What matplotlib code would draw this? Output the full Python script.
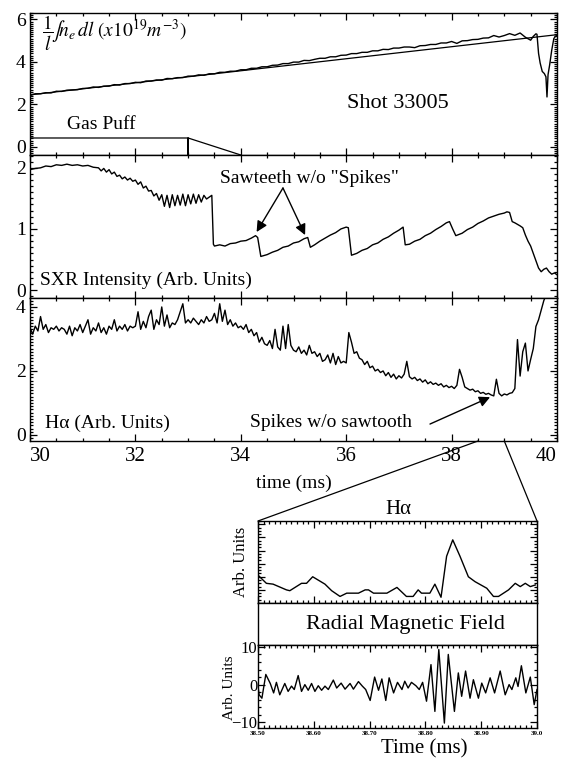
import numpy as np
import matplotlib
matplotlib.use("Agg")
import matplotlib.pyplot as plt
from matplotlib.patches import ConnectionPatch
from matplotlib.ticker import MultipleLocator

plt.rcParams['font.family'] = ['Liberation Serif', 'DejaVu Serif']
plt.rcParams['mathtext.fontset'] = 'stix'

# ---------------- line-averaged density (x10^19 m^-3) ----------------
ne_time = np.concatenate([np.round(np.arange(30.0, 39.51, 0.1), 2),
                          [39.55, 39.60, 39.62, 39.65, 39.68, 39.72, 39.76, 39.79,
                           39.81, 39.83, 39.86, 39.90, 39.94, 39.97, 40.0]])
ne_value = [2.42, 2.50, 2.50, 2.55, 2.54, 2.62, 2.61, 2.67, 2.68, 2.69,
            2.75, 2.76, 2.82, 2.80, 2.86, 2.86, 2.93, 2.91, 2.98, 2.98,
            3.04, 3.02, 3.10, 3.10, 3.15, 3.14, 3.22, 3.21, 3.26, 3.26,
            3.33, 3.33, 3.39, 3.37, 3.44, 3.44, 3.51, 3.51, 3.56, 3.56,
            3.63, 3.63, 3.70, 3.70, 3.77, 3.77, 3.84, 3.85, 3.92, 3.92,
            3.99, 3.99, 4.07, 4.06, 4.12, 4.17, 4.17, 4.24, 4.24, 4.31,
            4.32, 4.39, 4.39, 4.45, 4.45, 4.52, 4.52, 4.59, 4.58, 4.65,
            4.65, 4.70, 4.70, 4.67, 4.76, 4.77, 4.82, 4.82, 4.89, 4.89,
            4.96, 4.87, 4.99, 5.00, 5.05, 5.06, 5.12, 5.13, 5.24, 5.17,
            5.24, 5.33, 5.25, 5.36, 5.16, 5.02,
            5.20, 5.32, 5.30, 4.40, 3.95, 3.55, 3.45, 3.30,
            2.35, 3.40, 3.85, 4.55, 5.10, 5.20, 5.25]
ne_fit_time = [30.0, 40.0]
ne_fit_value = [2.45, 5.28]

# gas puff waveform (drawn on the density axis)
gas_time = [30.0, 33.0, 33.0, 33.0, 34.0]
gas_level = [0.42, 0.42, -0.38, 0.42, -0.38]

# ---------------- soft X-ray intensity ----------------
sxr_time = [30.0, 30.1, 30.2, 30.3, 30.4, 30.5, 30.6, 30.7, 30.8, 30.9,
            31.0, 31.1, 31.2, 31.3, 31.35, 31.4, 31.45, 31.5, 31.55, 31.6,
            31.65, 31.7, 31.75, 31.8, 31.85, 31.9, 31.95, 32.0, 32.05, 32.1,
            32.15, 32.2, 32.25, 32.3, 32.35, 32.4, 32.45, 32.5, 32.55, 32.6,
            32.65, 32.7, 32.75, 32.8, 32.85, 32.9, 32.95, 33.0, 33.05, 33.1,
            33.15, 33.2, 33.25, 33.3, 33.35, 33.4, 33.45, 33.48, 33.5, 33.6,
            33.7, 33.8, 33.9, 34.0, 34.1, 34.2, 34.28, 34.32, 34.38, 34.5,
            34.6, 34.7, 34.8, 34.9, 35.0, 35.1, 35.2, 35.27, 35.32, 35.4,
            35.5, 35.6, 35.7, 35.8, 35.9, 36.0, 36.04, 36.1, 36.2, 36.3,
            36.4, 36.5, 36.6, 36.7, 36.8, 36.9, 37.0, 37.08, 37.12, 37.2,
            37.3, 37.4, 37.5, 37.6, 37.7, 37.8, 37.9, 37.96, 38.02, 38.08,
            38.2, 38.3, 38.4, 38.5, 38.6, 38.7, 38.8, 38.9, 39.0, 39.05,
            39.1, 39.15, 39.2, 39.3, 39.35, 39.4, 39.45, 39.5, 39.55, 39.6,
            39.65, 39.7, 39.75, 39.8, 39.85, 39.9, 39.95, 40.0]
sxr_value = [1.97, 1.99, 2.00, 2.03, 2.02, 2.05, 2.04, 2.06, 2.04, 2.05,
             2.03, 2.04, 2.01, 2.00, 1.95, 1.99, 1.93, 1.97, 1.90, 1.93,
             1.86, 1.88, 1.82, 1.85, 1.80, 1.83, 1.78, 1.80, 1.73, 1.77,
             1.67, 1.70, 1.62, 1.63, 1.54, 1.58, 1.47, 1.56, 1.37, 1.55,
             1.35, 1.56, 1.38, 1.55, 1.39, 1.57, 1.38, 1.56, 1.41, 1.57,
             1.42, 1.56, 1.44, 1.55, 1.49, 1.52, 1.55, 0.75, 0.72, 0.74,
             0.72, 0.76, 0.77, 0.80, 0.81, 0.85, 0.89, 0.86, 0.55, 0.58,
             0.62, 0.65, 0.70, 0.72, 0.77, 0.79, 0.84, 0.86, 0.70, 0.74,
             0.80, 0.85, 0.90, 0.94, 1.00, 1.03, 1.02, 0.57, 0.60, 0.65,
             0.68, 0.74, 0.77, 0.83, 0.87, 0.93, 0.98, 1.03, 0.74, 0.75,
             0.80, 0.83, 0.89, 0.93, 0.99, 1.04, 1.10, 1.12, 1.00, 0.89,
             0.93, 0.99, 1.03, 1.09, 1.13, 1.18, 1.21, 1.24, 1.26, 1.28,
             1.27, 1.12, 1.10, 1.05, 1.02, 0.90, 0.80, 0.72, 0.60, 0.48,
             0.36, 0.30, 0.34, 0.36, 0.30, 0.26, 0.28, 0.25]

# ---------------- H-alpha emission ----------------
ha_time = np.round(np.arange(30.0, 40.001, 0.05), 2)
ha_value = [3.35, 3.15, 3.40, 3.25, 3.70, 3.30, 3.45, 3.20, 3.35, 3.30, 3.40, 3.25, 3.35, 3.30, 3.15, 3.40, 3.10, 3.35, 3.25, 3.45,
            3.20, 3.40, 3.60, 3.15, 3.35, 3.25, 3.50, 3.20, 3.35, 3.15, 3.40, 3.30, 3.60, 3.25, 3.40, 3.30, 3.45, 3.25, 3.40, 3.35,
            3.40, 3.85, 3.30, 3.55, 3.35, 3.70, 3.90, 3.30, 3.60, 3.45, 4.00, 3.40, 3.75, 3.35, 3.50, 3.45, 3.60, 3.85, 4.10, 3.50,
            3.60, 3.50, 3.65, 3.55, 3.45, 3.60, 3.50, 3.70, 3.55, 3.60, 3.80, 3.50, 4.10, 3.55, 3.90, 3.45, 3.60, 3.40, 3.50, 3.35,
            3.40, 3.30, 3.45, 3.20, 3.30, 3.10, 3.20, 2.90, 3.05, 2.85, 2.80, 2.95, 2.70, 3.30, 2.75, 2.65, 3.40, 2.70, 3.45, 2.80,
            2.65, 2.60, 2.75, 2.55, 2.65, 2.50, 2.80, 2.55, 2.60, 2.45, 2.55, 2.30, 2.35, 2.50, 2.25, 2.55, 2.20, 2.45, 2.25, 2.30,
            2.25, 3.20, 2.90, 2.55, 2.60, 2.40, 2.35, 2.20, 2.30, 2.10, 2.15, 2.00, 2.05, 1.95, 2.00, 1.85, 1.95, 1.80, 1.90, 1.75,
            1.85, 1.78, 1.90, 2.30, 1.82, 1.75, 1.80, 1.70, 1.75, 1.65, 1.72, 1.60, 1.66, 1.58, 1.62, 1.55, 1.60, 1.50, 1.55, 1.48,
            1.52, 1.45, 1.55, 2.05, 1.80, 1.50, 1.45, 1.40, 1.43, 1.35, 1.38, 1.30, 1.33, 1.27, 1.30, 1.25, 1.22, 1.74, 1.30, 1.22,
            1.28, 1.25, 1.30, 1.32, 1.45, 2.98, 1.84, 2.60, 2.87, 2.00, 2.36, 2.70, 3.39, 3.60, 3.90, 4.20, 4.40, 4.60, 4.70, 4.70, 4.70]
main_ticks = [30, 32, 34, 36, 38, 40]
main_ticklabels = ['30', '32', '34', '36', '38', '40']

# ---------------- zoomed window 38.5 - 39.0 ms ----------------
zoom_ha_time = [38.500, 38.515, 38.527, 38.551, 38.557, 38.578, 38.587, 38.598, 38.620, 38.632,
                38.647, 38.659, 38.680, 38.692, 38.698, 38.707, 38.731, 38.749, 38.766, 38.778,
                38.787, 38.793, 38.808, 38.817, 38.828, 38.838, 38.849, 38.862, 38.877, 38.889,
                38.910, 38.922, 38.931, 38.949, 38.961, 38.970, 38.979, 38.988, 38.997]
zoom_ha_value = [0.34, 0.24, 0.23, 0.16, 0.15, 0.24, 0.24, 0.32, 0.23, 0.15,
                 0.08, 0.12, 0.12, 0.16, 0.16, 0.12, 0.12, 0.19, 0.08, 0.08,
                 0.16, 0.12, 0.12, 0.23, 0.07, 0.57, 0.77, 0.57, 0.32, 0.26,
                 0.18, 0.08, 0.08, 0.16, 0.24, 0.20, 0.24, 0.20, 0.22]

mag_time = [38.500, 38.502, 38.507, 38.514, 38.522, 38.528, 38.533, 38.539, 38.548, 38.554,
            38.560, 38.565, 38.572, 38.578, 38.584, 38.590, 38.596, 38.602, 38.608, 38.614,
            38.620, 38.626, 38.635, 38.641, 38.649, 38.656, 38.665, 38.671, 38.680, 38.687,
            38.693, 38.701, 38.709, 38.716, 38.722, 38.729, 38.735, 38.743, 38.750, 38.758,
            38.763, 38.769, 38.775, 38.783, 38.789, 38.795, 38.802, 38.810, 38.817, 38.824,
            38.834, 38.841, 38.852, 38.859, 38.865, 38.872, 38.880, 38.886, 38.895, 38.901,
            38.908, 38.916, 38.924, 38.934, 38.943, 38.950, 38.955, 38.962, 38.966, 38.972,
            38.980, 38.988, 38.995, 39.000]
mag_value = [-0.5, -2.7, -3.6, 2.7, 0.3, -2.2, 0.6, -2.7, 0.3, -1.8,
             -0.4, -1.3, 2.4, -1.8, 0.0, -1.5, 0.3, -1.8, -0.3, -1.5,
             -0.4, -1.3, 1.2, -0.9, 0.4, -1.2, 0.3, -1.2, 0.8, -0.4,
             -1.3, -4.2, 2.0, -1.5, 1.5, -4.2, 1.8, -2.2, 0.6, -1.3,
             0.9, -0.9, 0.6, -0.3, -1.3, 0.6, -4.4, 5.3, -7.1, 9.3,
             -10.2, 8.0, -7.1, 3.1, -3.1, 3.6, -3.6, 1.3, -3.6, 0.4,
             -2.2, 1.8, -2.2, 3.6, -2.7, 0.0, -1.3, 1.8, -0.5, 5.0,
             -2.2, 2.0, -5.3, -1.3]
mag_ticks = [38.5, 38.6, 38.7, 38.8, 38.9, 39.0]
mag_ticklabels = ['38.50', '38.60', '38.70', '38.80', '38.90', '39.0']

W, H = 563, 758
fig = plt.figure(figsize=(W / 100, H / 100), dpi=100)


def px_axes(x0, y0, x1, y1):
    """Add axes given pixel box (left, top, right, bottom)."""
    return fig.add_axes([x0 / W, 1 - y1 / H, (x1 - x0) / W, (y1 - y0) / H])


def style(ax, lw=1.0):
    for s in ax.spines.values():
        s.set_linewidth(lw)
    ax.tick_params(which='both', direction='in', top=True, right=True,
                   labelsize=14, width=0.9, pad=3)
    ax.tick_params(which='major', length=5)
    ax.tick_params(which='minor', length=2.5)


LW = 1.0
ax1 = px_axes(30, 13, 557, 155)
ax2 = px_axes(30, 155, 557, 298)
ax3 = px_axes(30, 298, 557, 441)

for ax in (ax1, ax2, ax3):
    style(ax)
    ax.set_xlim(30, 40)
    ax.xaxis.set_major_locator(MultipleLocator(2))
    ax.xaxis.set_minor_locator(MultipleLocator(0.5))
for ax in (ax1, ax2):
    ax.tick_params(labelbottom=False)

# density panel
ax1.plot(ne_time, ne_value, color='k', lw=LW)
ax1.plot(ne_fit_time, ne_fit_value, color='k', lw=0.9)
ax1.plot(gas_time, gas_level, color='k', lw=0.9)
ax1.set_ylim(-0.38, 6.3)
ax1.yaxis.set_major_locator(MultipleLocator(2))
ax1.yaxis.set_minor_locator(MultipleLocator(0.1))
ax1.text(0.022, 0.855, r'$\dfrac{1}{l}\!\int\! n_e\, dl\ \mathit{(x10^{19}m^{-3})}$',
         transform=ax1.transAxes, fontsize=14, ha='left', va='center')
ax1.text(0.135, 0.215, 'Gas Puff', transform=ax1.transAxes, fontsize=14,
         ha='center', va='center')
ax1.text(0.698, 0.366, 'Shot 33005', transform=ax1.transAxes, fontsize=16,
         ha='center', va='center')

# SXR panel
ax2.plot(sxr_time, sxr_value, color='k', lw=LW)
ax2.set_ylim(-0.13, 2.21)
ax2.yaxis.set_major_locator(MultipleLocator(1))
ax2.yaxis.set_minor_locator(MultipleLocator(0.1))
ax2.text(0.019, 0.126, 'SXR Intensity (Arb. Units)', transform=ax2.transAxes,
         fontsize=14, ha='left', va='center')
ax2.text(0.3605, 0.839, 'Sawteeth w/o "Spikes"', transform=ax2.transAxes,
         fontsize=14, ha='left', va='center')
arrow = dict(arrowstyle='-|>', mutation_scale=16, lw=1.0, color='k',
             shrinkA=0, shrinkB=0)
ax2.annotate('', xy=(34.30, 0.95), xytext=(34.80, 1.67), arrowprops=arrow)
ax2.annotate('', xy=(35.22, 0.90), xytext=(34.80, 1.67), arrowprops=arrow)

# H-alpha panel
ax3.plot(ha_time, ha_value, color='k', lw=LW)
ax3.set_ylim(-0.19, 4.28)
ax3.yaxis.set_major_locator(MultipleLocator(2))
ax3.yaxis.set_minor_locator(MultipleLocator(0.1))
ax3.text(0.0285, 0.126, 'Hα (Arb. Units)', transform=ax3.transAxes,
         fontsize=14, ha='left', va='center')
ax3.text(0.417, 0.126, 'Spikes w/o sawtooth', transform=ax3.transAxes,
         fontsize=14, ha='left', va='center')
ax3.annotate('', xy=(38.73, 1.18), xytext=(37.59, 0.34), arrowprops=arrow)
ax3.set_xticks(main_ticks, main_ticklabels)
ax3.tick_params(axis='x', labelsize=15, pad=4)
xlabels = ax3.get_xticklabels()
xlabels[0].set_horizontalalignment('left')
xlabels[-1].set_horizontalalignment('right')
fig.text(294 / W, 1 - 483 / H, 'time (ms)', fontsize=14, ha='center', va='center')

# zoomed H-alpha
axz = px_axes(258, 521, 537, 603)
style(axz)
axz.plot(zoom_ha_time, zoom_ha_value, color='k', lw=LW)
axz.set_xlim(38.5, 39.0)
axz.set_ylim(0, 1)
axz.xaxis.set_major_locator(MultipleLocator(0.1))
axz.xaxis.set_minor_locator(MultipleLocator(0.01))
axz.yaxis.set_major_locator(MultipleLocator(0.16))
axz.yaxis.set_minor_locator(MultipleLocator(0.04))
axz.tick_params(which='both', labelbottom=False, labelleft=False)
axz.tick_params(which='minor', length=2)
fig.text(398 / W, 1 - 510 / H, 'Hα', fontsize=15, ha='center', va='center')
fig.text(241 / W, 1 - 562 / H, 'Arb. Units', fontsize=12, rotation=90,
         ha='center', va='center')

# title strip for the magnetic probe
axt = px_axes(258, 603, 537, 645)
for s in axt.spines.values():
    s.set_linewidth(1.0)
axt.set_xticks([])
axt.set_yticks([])
axt.text(0.53, 0.5, 'Radial Magnetic Field', transform=axt.transAxes,
         fontsize=16, ha='center', va='center')

# zoomed radial magnetic field
axm = px_axes(258, 645, 537, 728)
style(axm)
axm.plot(mag_time, mag_value, color='k', lw=LW)
axm.set_xlim(38.5, 39.0)
axm.set_ylim(-11.5, 10.5)
axm.set_xticks(mag_ticks)
axm.set_xticklabels(mag_ticklabels, fontsize=5, fontweight='bold')
axm.xaxis.set_minor_locator(MultipleLocator(0.01))
axm.yaxis.set_major_locator(MultipleLocator(10))
axm.yaxis.set_minor_locator(MultipleLocator(2))
axm.tick_params(axis='y', labelsize=12, pad=0.5)
axm.tick_params(axis='x', pad=2)
axm.tick_params(which='minor', length=2)
fig.text(424 / W, 1 - 749 / H, 'Time (ms)', fontsize=15, ha='center', va='center')
fig.text(236 / W, 1 - 688 / H, 'Arb. Units', fontsize=11, rotation=90,
         ha='right', va='center')

# lines linking the main time axis to the zoomed window
for xa, xb in ((38.5, 0.0), (39.0, 1.0)):
    con = ConnectionPatch(xyA=(xa, ax3.get_ylim()[0]), coordsA=ax3.transData,
                          xyB=(xb, 1.0), coordsB=axz.transAxes,
                          color='k', lw=0.9)
    fig.add_artist(con)

fig.savefig('out.png', dpi=100)
